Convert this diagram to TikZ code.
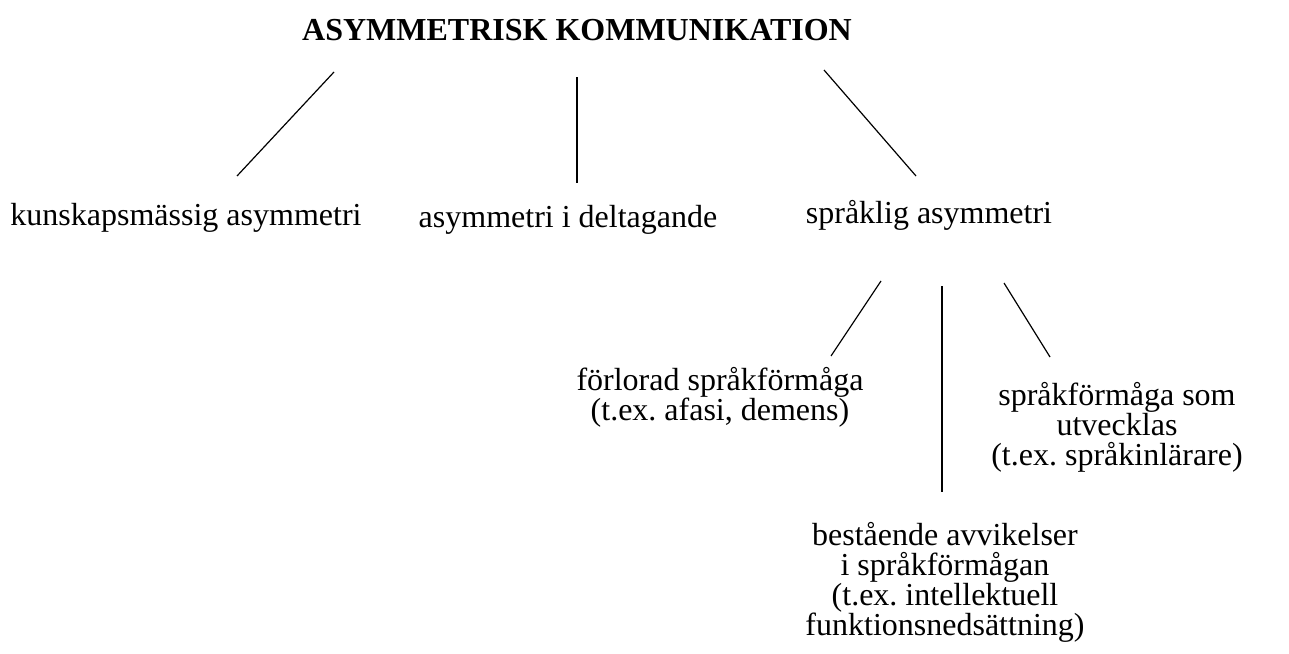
\documentclass[tikz,border=0pt]{standalone}
\usepackage{fontspec}
\setmainfont{Liberation Serif}
\frenchspacing
\begin{document}
\begin{tikzpicture}[x=1pt,y=-1pt,
  lbl/.style={inner sep=0pt,align=center,font=\fontsize{32}{30}\selectfont},
  ttl/.style={inner sep=0pt,font=\fontsize{32}{30}\selectfont\bfseries},
  conn/.style={line width=1.2pt}]
\useasboundingbox (0,0) rectangle (1289,653);
\node[ttl] (title) at (577,30) {ASYMMETRISK KOMMUNIKATION};
\node[lbl] (kun) at (186,218) {kunskapsmässig asymmetri};
\node[lbl] (del) at (568,220) {asymmetri i deltagande};
\node[lbl] (spr) at (929,215) {språklig asymmetri};
\node[lbl] (forl) at (720,397) {förlorad språkförmåga\\(t.ex. afasi, demens)};
\node[lbl] (utv) at (1117,427) {språkförmåga som\\utvecklas\\(t.ex. språkinlärare)};
\node[lbl] (best) at (945,582) {bestående avvikelser\\i språkförmågan\\(t.ex. intellektuell\\funktionsnedsättning)};
\coordinate (a1) at (334,72); \coordinate (a2) at (237,176);
\coordinate (b1) at (577,77); \coordinate (b2) at (577,183);
\coordinate (c1) at (824,70); \coordinate (c2) at (916,176);
\coordinate (d1) at (881,281); \coordinate (d2) at (831,356);
\coordinate (e1) at (942,286); \coordinate (e2) at (942,492);
\coordinate (f1) at (1004,283); \coordinate (f2) at (1050,357);
\draw[conn] (a1) -- (a2);
\draw[conn] (b1) -- (b2);
\draw[conn] (c1) -- (c2);
\draw[conn] (d1) -- (d2);
\draw[conn] (e1) -- (e2);
\draw[conn] (f1) -- (f2);
\end{tikzpicture}
\end{document}
